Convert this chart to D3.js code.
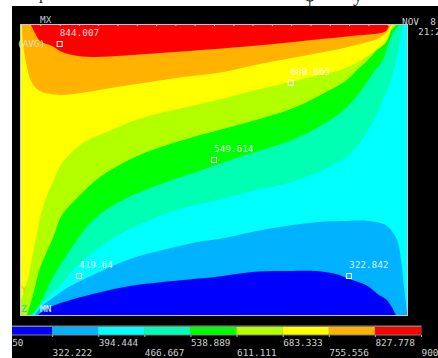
<!DOCTYPE html>
<html>
<head>
<meta charset="utf-8">
<script src="https://cdn.jsdelivr.net/npm/d3@7"></script>
<style>
    html, body { margin: 0; padding: 0; background: #fff; overflow: hidden; }
    svg { display: block; }
    text { font-family: "DejaVu Sans Mono", monospace; font-size: 9.4px; white-space: pre; }
</style>
</head>
<body>
<div id="chart"></div>
<script>
// contour levels of the legend
const levels = [250, 322.222, 394.444, 466.667, 538.889, 611.111, 683.333, 755.556, 827.778, 900];
const levelLabels = ["250", "322.222", "394.444", "466.667", "538.889", "611.111", "683.333", "755.556", "827.778", "900"];
const bandColors = ["#0000ff", "#00b2ff", "#00ffff", "#00ffb2", "#00ff00", "#b2ff00", "#ffff00", "#ffb200", "#ff0000"];

// contour boundaries, [x, y] in plate units (y goes down)
const line322 = [[17,290],[29,282],[76,268],[109,261],[142,257],[198,251.5],[231,247],[261,246],[295,246],[315,249],[328,254],[345,260],[358,270],[366,275],[375,290]];
const line394 = [[14,290],[21,281],[29,275],[46,263],[72,250],[109,234],[142,225],[176,217],[198,214],[231,207],[265,201],[298,197],[321,196],[348,196],[366,201],[376,215],[380,235],[383,262],[386,288],[386,290]];
const line466 = [[12,290],[19,281],[42,257],[59,238],[92,213],[129,195],[166,182],[198,175],[231,166],[271,157],[308,142],[330,128],[349,102],[359,82],[369,58],[375,35],[379,15],[382,0]];
const line538 = [[10,290],[17,282],[32,252],[56,215],[72,195],[96,178],[129,163],[166,150],[198,139],[231,128],[271,115],[309,95],[326,82],[342,63],[352,48],[362,35],[368,17],[374,5],[378,0]];
const line611 = [[6,290],[12,270],[19,243],[32,213],[41,190],[57,172],[79,152],[112,133],[146,120],[198,105],[235,95],[275,82],[309,65],[326,55],[336,45],[347,35],[361,18],[368,8],[375,0]];
const line683 = [[0,275],[2,270],[7,253],[11,233],[15,213],[22,182],[34,152],[42,137],[62,118],[86,107],[112,96],[139,88],[166,82],[198,74.5],[231,66],[265,58],[298,50],[325,43],[348,30],[365,17],[370,5],[372,0]];
const line755 = [[1,0],[2,18],[6,42],[11,58],[19,66],[39,70],[66,67],[96,62],[129,57],[162,52],[198,47.7],[231,40.7],[265,34],[298,28],[331,21],[358,13],[366,7],[370,0]];
const line827 = [[10,0],[14,8],[19,16],[31,21],[41,27],[57,31],[74,32],[104,30.5],[139,28],[198,23.7],[231,21],[265,17.7],[298,14.3],[331,11],[365,6],[368,0]];

// probe points
const probeX = [38.7, 269.7, 193, 58, 328];
const probeY = [19, 57.7, 135, 251, 251];
const probeLabels = ["844.007", "680.665", "549.614", "419.64", "322.842"];

const svg = d3.select("#chart").append("svg")
    .attr("width", 438)
    .attr("height", 358);

svg.append("defs").append("clipPath")
    .attr("id", "screen")
    .append("rect")
    .attr("x", 12).attr("y", 6).attr("width", 426).attr("height", 352);

// scraps of the title above the black screen
const titleScraps = [{t: "p", x: 39, y: -1, s: 16}, {t: "φ", x: 304, y: 1, s: 20}, {t: "y", x: 353, y: 1, s: 20}];
svg.selectAll(".scrap")
    .data(titleScraps)
    .enter().append("text")
    .attr("class", "scrap")
    .attr("x", d => d.x)
    .attr("y", d => d.y)
    .attr("fill", "#222")
    .style("font-family", "Liberation Serif")
    .style("font-size", d => d.s + "px")
    .text(d => d.t);

const screen = svg.append("g").attr("clip-path", "url(#screen)");

screen.append("rect")
    .attr("x", 12).attr("y", 6).attr("width", 426).attr("height", 352)
    .attr("fill", "#000");

// plate
const x = d3.scaleLinear().domain([0, 386]).range([21, 407]);
const y = d3.scaleLinear().domain([0, 290]).range([25, 315]);

const contour = d3.line().x(d => x(d[0])).y(d => y(d[1])).curve(d3.curveCatmullRom.alpha(0.5));
const straight = d3.line().x(d => x(d[0])).y(d => y(d[1]));

const plate = screen.append("g");

plate.append("rect")
    .attr("x", x(0)).attr("y", y(0))
    .attr("width", x(386) - x(0)).attr("height", y(290) - y(0))
    .attr("fill", bandColors[2]);

// low bands close along the bottom, high bands around the top left corner
const bands = [
    {points: line394, close: [], color: bandColors[1]},
    {points: line322, close: [], color: bandColors[0]},
    {points: line466, close: [[0, 0], [0, 290]], color: bandColors[3]},
    {points: line538, close: [[0, 0], [0, 290]], color: bandColors[4]},
    {points: line611, close: [[0, 0], [0, 290]], color: bandColors[5]},
    {points: line683, close: [[0, 0]], color: bandColors[6]},
    {points: line755, close: [], color: bandColors[7]},
    {points: line827, close: [], color: bandColors[8]}
];

plate.selectAll(".band")
    .data(bands)
    .enter().append("path")
    .attr("class", "band")
    .attr("d", d => {
        let closing = d.close.length ? straight(d.close).replace("M", "L") : "";
        return contour(d.points) + closing + "Z";
    })
    .attr("fill", d => d.color);

plate.append("rect")
    .attr("x", x(0) - 0.5).attr("y", y(0) - 0.5)
    .attr("width", x(386) - x(0) + 1).attr("height", y(290) - y(0) + 1)
    .attr("fill", "none")
    .attr("stroke", "#c4c4d4");

// little ticks on the top edge
const topAxis = d3.axisTop(x).tickValues(d3.range(19.3, 386, 19.3)).tickSize(1).tickFormat("");
const topAxisGroup = screen.append("g")
    .attr("transform", `translate(0,${y(0) + 1})`)
    .call(topAxis);
topAxisGroup.select(".domain").remove();
topAxisGroup.selectAll("line").attr("stroke", "#c4c4d4");

// probes
screen.selectAll(".probe")
    .data(probeLabels)
    .enter().append("rect")
    .attr("class", "probe")
    .attr("x", (d, i) => x(probeX[i]) - 2.5)
    .attr("y", (d, i) => y(probeY[i]) - 2.5)
    .attr("width", 5).attr("height", 5)
    .attr("fill", "none")
    .attr("stroke", "#fff");

screen.selectAll(".probe-label")
    .data(probeLabels)
    .enter().append("text")
    .attr("class", "probe-label")
    .attr("x", (d, i) => x(probeX[i]))
    .attr("y", (d, i) => y(probeY[i]) - 8)
    .attr("fill", "#fff")
    .attr("fill-opacity", 0.85)
    .text(d => d);

// screen labels
const notes = [
    {t: "MX", x: 40, y: 23, c: "#b4d0dc"},
    {t: "(AVG)", x: 17, y: 47, c: "#e8e0c0"},
    {t: "MN", x: 40, y: 312, c: "#ffffff"},
    {t: "NOV  8", x: 402, y: 25, c: "#cccccc"},
    {t: "21:2", x: 418, y: 35, c: "#cccccc"},
    {t: "Y", x: 21, y: 293, c: "#b4d800"},
    {t: "Z", x: 21, y: 312, c: "#30c8c8"}
];

screen.selectAll(".note")
    .data(notes)
    .enter().append("text")
    .attr("class", "note")
    .attr("x", d => d.x)
    .attr("y", d => d.y)
    .attr("fill", d => d.c)
    .text(d => d.t);

// legend
const legendX = d3.scaleLinear().domain([250, 900]).range([6, 421]);
const legend = screen.append("g");

legend.append("rect")
    .attr("x", legendX(250)).attr("y", 326)
    .attr("width", legendX(900) - legendX(250)).attr("height", 9)
    .attr("fill", "#808080")
    .attr("stroke", "#808080");

legend.selectAll(".swatch")
    .data(bandColors)
    .enter().append("rect")
    .attr("class", "swatch")
    .attr("x", (d, i) => legendX(levels[i]))
    .attr("y", 327)
    .attr("width", (d, i) => legendX(levels[i + 1]) - legendX(levels[i]))
    .attr("height", 7.5)
    .attr("fill", d => d);

const legendAxis = d3.axisBottom(legendX)
    .tickValues(levels)
    .tickSize(2)
    .tickFormat((d, i) => levelLabels[i]);

const legendAxisGroup = legend.append("g")
    .attr("transform", "translate(0,335)")
    .call(legendAxis);

legendAxisGroup.select(".domain").remove();
legendAxisGroup.selectAll("line").attr("stroke", "#aaa");
legendAxisGroup.selectAll("text")
    .attr("text-anchor", "start")
    .attr("x", 0)
    .attr("y", (d, i) => i % 2 ? 21 : 11)
    .attr("dy", 0)
    .attr("fill", "#cfcfcf")
    .style("font-family", "'DejaVu Sans Mono', monospace")
    .style("font-size", "9.4px");
</script>
</body>
</html>
